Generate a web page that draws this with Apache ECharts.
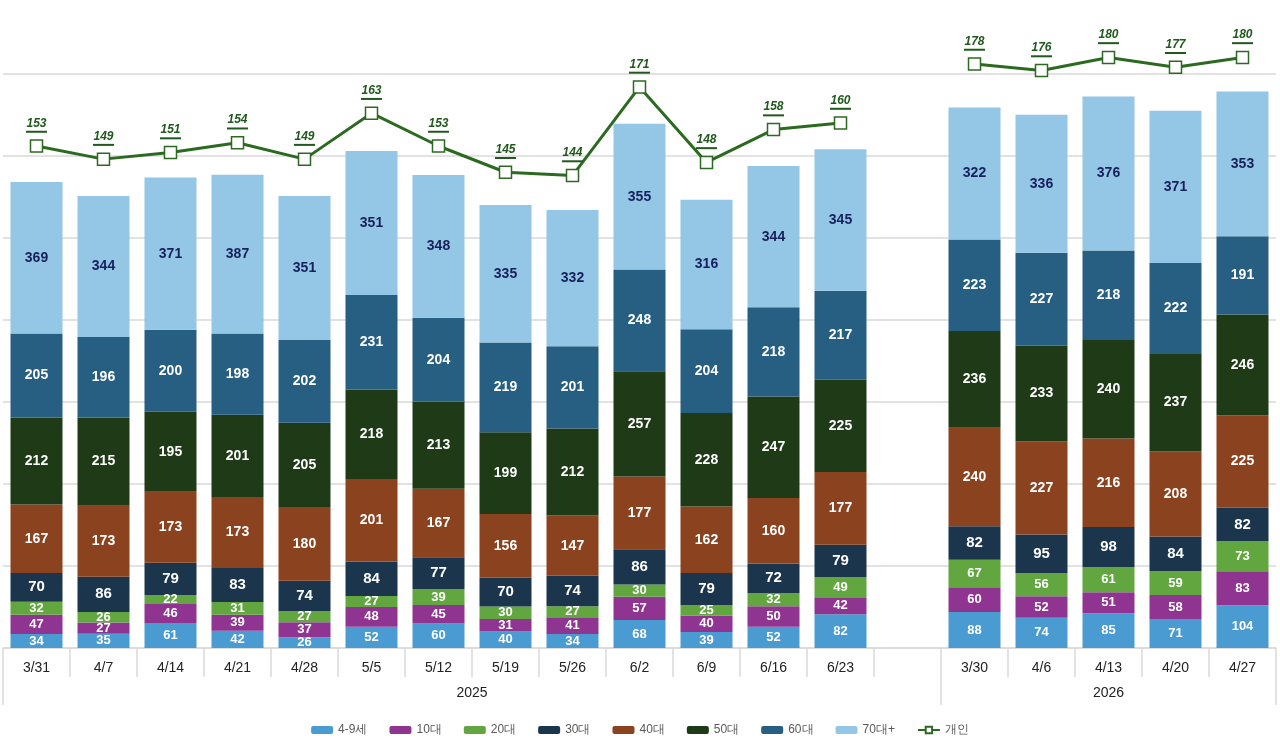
<!DOCTYPE html>
<html>
<head>
<meta charset="utf-8">
<script src="https://cdn.jsdelivr.net/npm/echarts@6/dist/echarts.min.js"></script>
<style>
  html, body { margin: 0; padding: 0; background: #fff; }
  #main { width: 1280px; height: 745px; }
</style>
</head>
<body>
<div id="main"></div>
<script>
// 주차별 카테고리 (2025: 13주 + 빈칸, 2026: 5주)
var weeks = ['3/31','4/7','4/14','4/21','4/28','5/5','5/12','5/19','5/26','6/2','6/9','6/16','6/23','',
             '3/30','4/6','4/13','4/20','4/27']
var years = ['2025', '2026']

var age49  = [34,35,61,42,26,52,60,40,34,68,39,52,82,null,88,74,85,71,104]
var age10  = [47,27,46,39,37,48,45,31,41,57,40,50,42,null,60,52,51,58,83]
var age20  = [32,26,22,31,27,27,39,30,27,30,25,32,49,null,67,56,61,59,73]
var age30  = [70,86,79,83,74,84,77,70,74,86,79,72,79,null,82,95,98,84,82]
var age40  = [167,173,173,173,180,201,167,156,147,177,162,160,177,null,240,227,216,208,225]
var age50  = [212,215,195,201,205,218,213,199,212,257,228,247,225,null,236,233,240,237,246]
var age60  = [205,196,200,198,202,231,204,219,201,248,204,218,217,null,223,227,218,222,191]
var age70  = [369,344,371,387,351,351,348,335,332,355,316,344,345,null,322,336,376,371,353]
var personal = [153,149,151,154,149,163,153,145,144,171,148,158,160,null,178,176,180,177,180]

var FONT = '"Liberation Sans", Arial, sans-serif'

// 막대 시리즈 공통 생성
function barSeries(name, data, color, labelColor, fontSize){
  return {
    name: name,
    type: 'bar',
    stack: 'total',
    barWidth: 52,
    data: data,
    itemStyle: { color: color },
    label: {
      show: true,
      position: 'inside',
      color: labelColor,
      fontFamily: FONT,
      fontWeight: 'bold',
      fontSize: fontSize
    },
    emphasis: { disabled: true }
  }
}

var chart = echarts.init(document.getElementById('main'))

var option = {
  animation: false,
  grid: { left: 3, right: 4, top: 0, bottom: 97, containLabel: false },
  legend: {
    bottom: 4,
    left: 'center',
    itemWidth: 22,
    itemHeight: 8,
    itemGap: 22,
    textStyle: { color: '#595959', fontSize: 12, fontFamily: FONT },
    data: ['4-9세','10대','20대','30대','40대','50대','60대','70대+','개인']
  },
  xAxis: [{
    type: 'category',
    data: weeks,
    axisLine: { show: true, lineStyle: { color: '#d9d9d9', width: 1.5 } },
    axisTick: { show: true, interval: 0, length: 29, lineStyle: { color: '#d9d9d9', width: 1.5 } },
    axisLabel: { interval: 0, margin: 13, color: '#222', fontSize: 14, fontFamily: FONT }
  }, {
    type: 'value',
    min: 0,
    max: 19,
    position: 'bottom',
    axisLine: { show: false },
    splitLine: { show: false },
    axisTick: { show: true, customValues: [0, 14, 19], length: 57, lineStyle: { color: '#d9d9d9', width: 1.5 } },
    axisLabel: {
      customValues: [7, 16.5],
      margin: 38,
      color: '#222', fontSize: 14, fontFamily: FONT,
      formatter: function(v){ return v < 10 ? years[0] : years[1] }
    }
  }],
  yAxis: [{
    type: 'value',
    min: 0,
    max: 1580,
    interval: 200,
    axisLabel: { show: false },
    axisLine: { show: false },
    axisTick: { show: false },
    splitLine: { showMaxLine: false, lineStyle: { color: '#d9d9d9', width: 1.5 } }
  }, {
    type: 'value',
    min: 0,
    max: 197.5,
    show: false,
    splitLine: { show: false }
  }],
  series: [
    barSeries('4-9세', age49, '#4a9bd1', '#fff', 13),
    barSeries('10대', age10, '#8f3490', '#fff', 13),
    barSeries('20대', age20, '#62a640', '#fff', 13),
    barSeries('30대', age30, '#1b364c', '#fff', 15),
    barSeries('40대', age40, '#8b421e', '#fff', 14),
    barSeries('50대', age50, '#1f3a17', '#fff', 14),
    barSeries('60대', age60, '#265f82', '#fff', 14),
    barSeries('70대+', age70, '#94c6e6', '#17205c', 14),
    {
      name: '개인',
      type: 'line',
      yAxisIndex: 1,
      data: personal,
      connectNulls: false,
      symbol: 'rect',
      symbolSize: 12,
      z: 10,
      lineStyle: { color: '#2d6a21', width: 3 },
      itemStyle: { color: '#fff', borderColor: '#2d6a21', borderWidth: 1.5 },
      label: {
        show: true,
        position: 'top',
        distance: 6,
        formatter: function(p){ return '{v|' + p.value + '}\n{u|}' },
        rich: {
          v: { fontFamily: FONT, fontStyle: 'italic', fontWeight: 'bold', fontSize: 12, color: '#1f5a1c', align: 'center', lineHeight: 14 },
          u: { width: 21, height: 2, backgroundColor: '#1f5a1c', align: 'center', lineHeight: 3 }
        }
      },
      emphasis: { disabled: true }
    }
  ]
}

chart.setOption(option)
</script>
</body>
</html>
